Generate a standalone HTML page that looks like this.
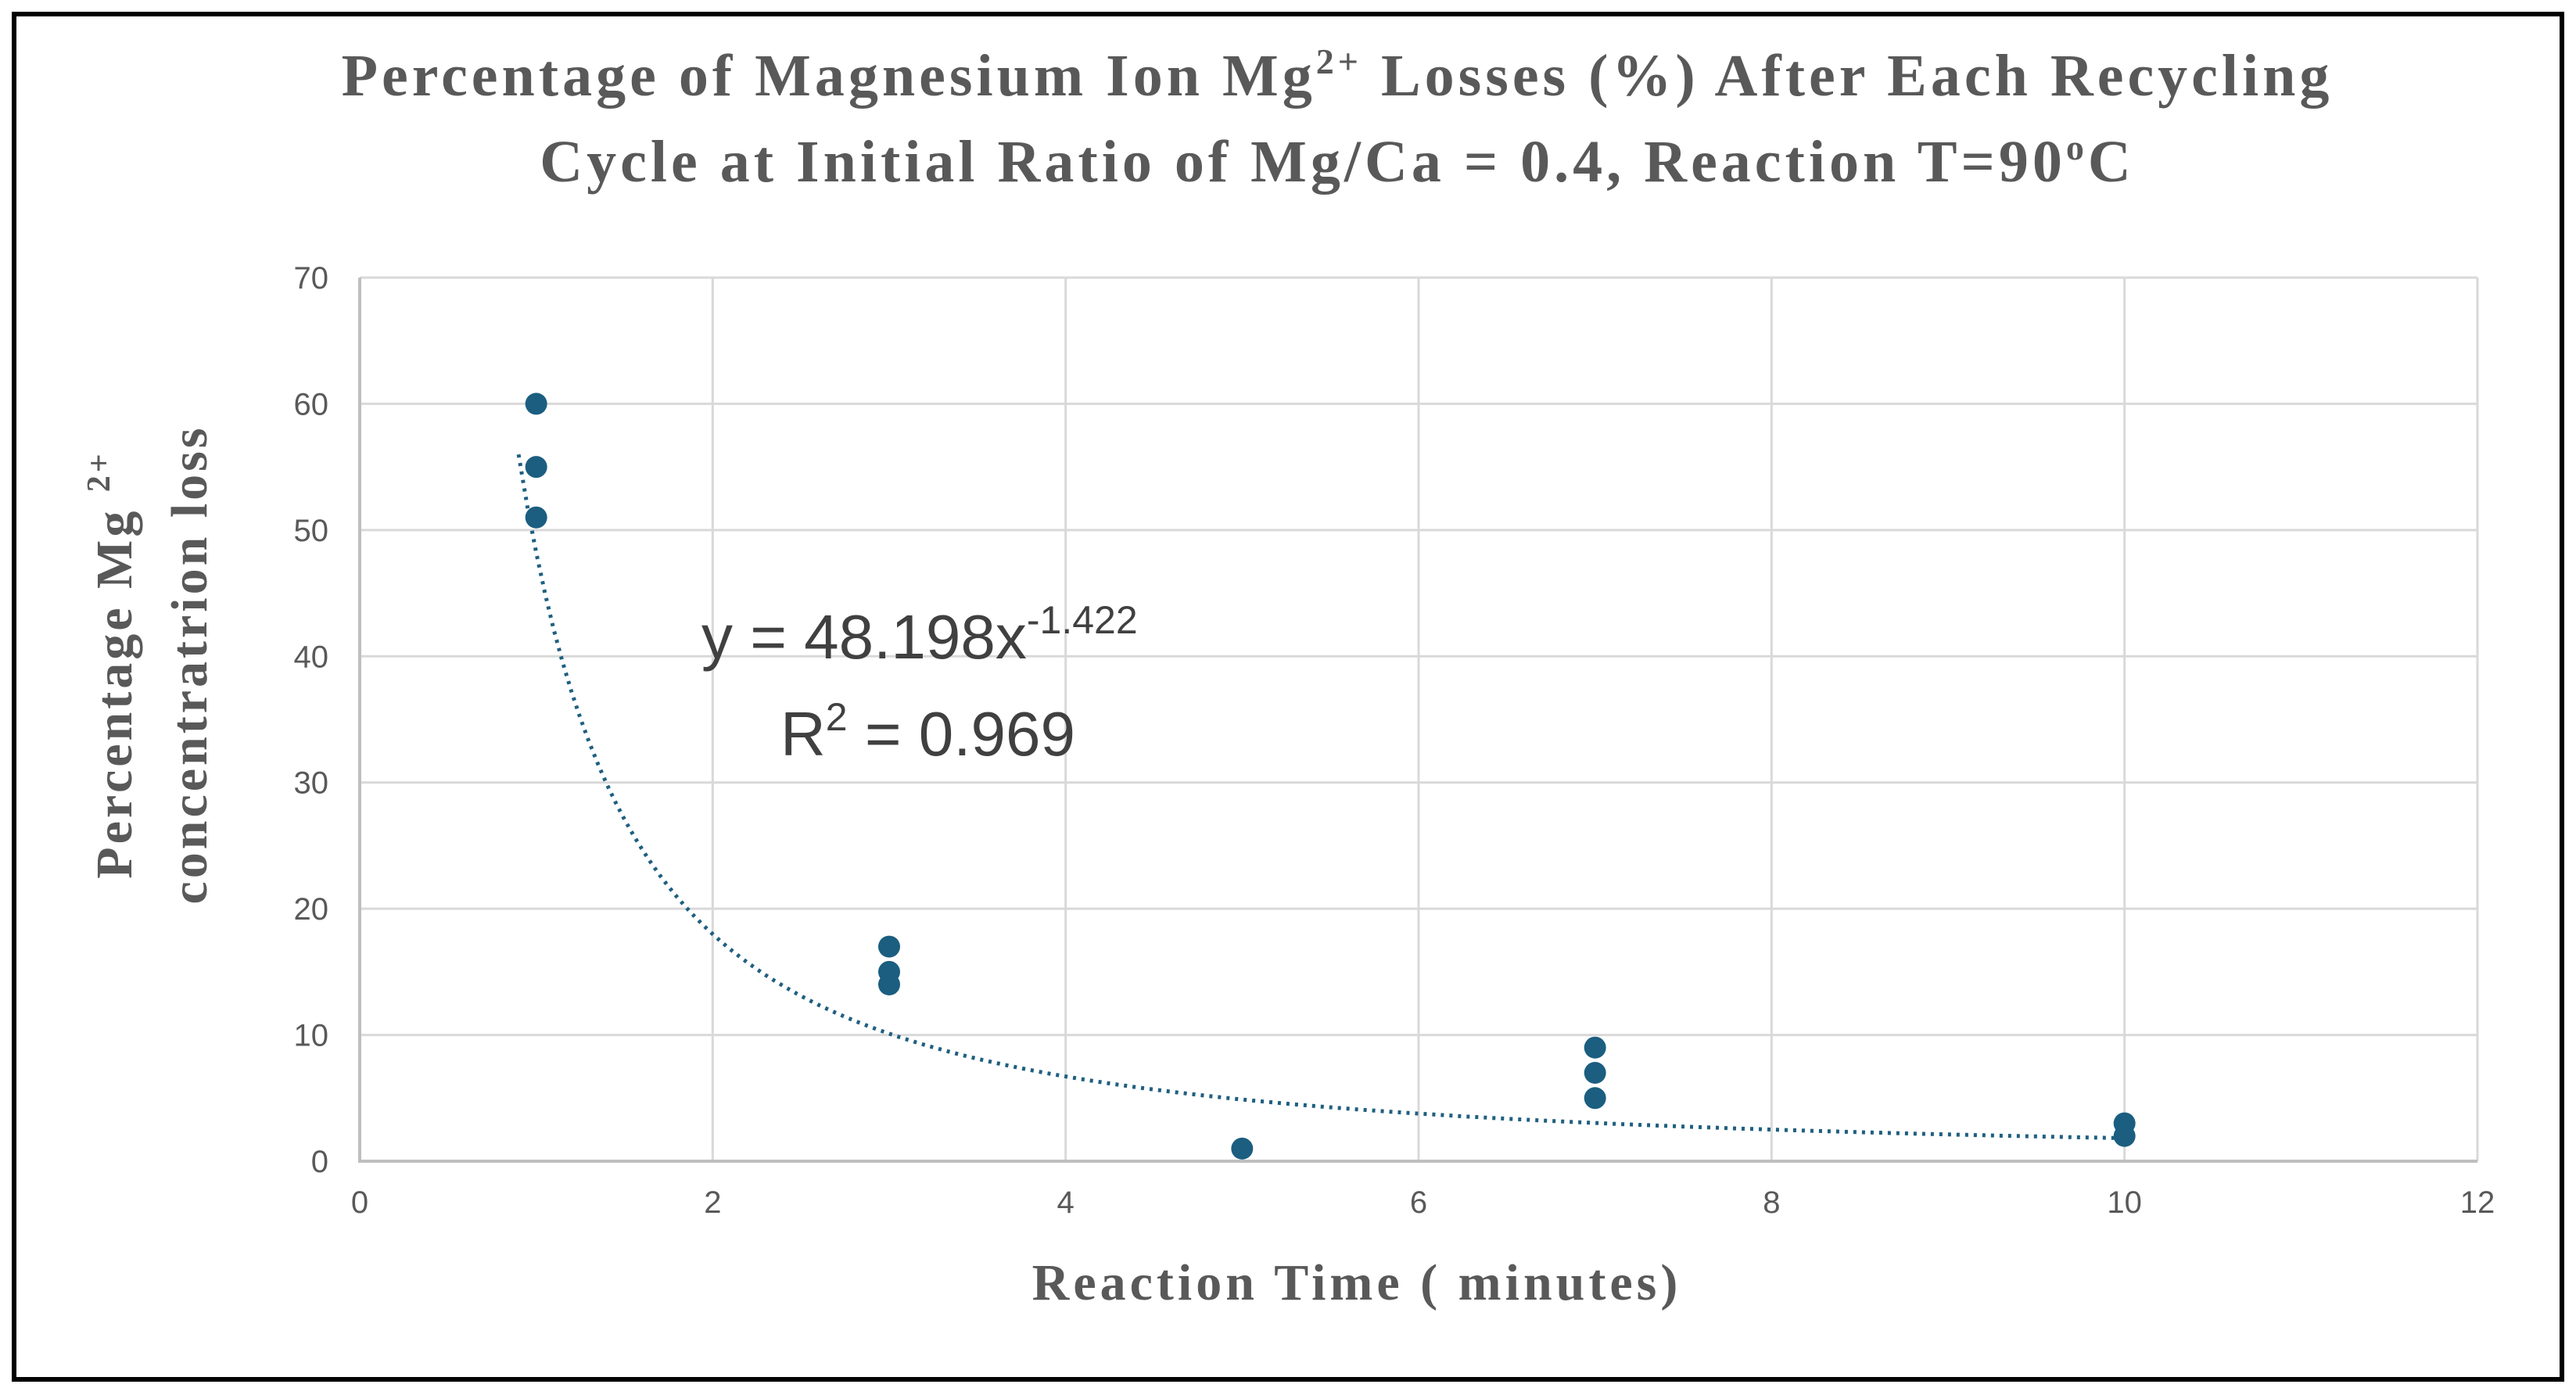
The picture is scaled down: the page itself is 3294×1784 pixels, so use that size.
<!DOCTYPE html>
<html><head><meta charset="utf-8"><style>
body{margin:0;background:#fff;}
svg{display:block;}
</style></head><body>
<svg id="chart" width="3294" height="1784" xmlns="http://www.w3.org/2000/svg">
<rect x="18" y="18" width="3258" height="1746" fill="#fff" stroke="#000" stroke-width="6"/>
<g font-family="Liberation Serif, serif" font-weight="bold" fill="#595959" font-size="76" letter-spacing="5" text-anchor="middle">
<text x="1710" y="122">Percentage of Magnesium Ion Mg<tspan font-size="46" dy="-28">2+</tspan><tspan dy="28"> Losses (%) After Each Recycling</tspan></text>
<text x="1710" y="232">Cycle at Initial Ratio of Mg/Ca = 0.4, Reaction T=90<tspan font-size="46" dy="-28">o</tspan><tspan dy="28">C</tspan></text>
</g>
<g id="grid"></g>
<g id="ticks" font-family="Liberation Sans, sans-serif" font-size="40" fill="#595959"></g>
<path id="trend" fill="none" stroke="#1f5f80" stroke-width="5" stroke-dasharray="4,7"/>
<g id="points"></g>
<g font-family="Liberation Sans, sans-serif" fill="#404040" font-size="80">
<text x="897" y="842">y = 48.198x<tspan font-size="50" dy="-32">-1.422</tspan></text>
<text x="998" y="966">R<tspan font-size="50" dy="-32">2</tspan><tspan dy="32"> = 0.969</tspan></text>
</g>
<text x="1735" y="1662" text-anchor="middle" font-family="Liberation Serif, serif" font-weight="bold" font-size="66" letter-spacing="5" fill="#595959">Reaction Time ( minutes)</text>
<g transform="translate(0,850) rotate(-90)" font-family="Liberation Serif, serif" font-weight="bold" font-size="66" letter-spacing="4" fill="#595959" text-anchor="middle">
<text x="0" y="168">Percentage Mg <tspan font-size="42" dy="-28">2+</tspan></text>
<text x="0" y="264">concentratrion  loss</text>
</g>
</svg>
<script>
const xTicks=[0,2,4,6,8,10,12];
const yTicks=[0,10,20,30,40,50,60,70];
const times=[1,1,1,3,3,3,5,7,7,7,10,10];
const losses=[60,55,51,17,15,14,1,9,7,5,3,2];
const fitA=48.198, fitB=-1.422;
const L=460,R=3168,T=355,B=1485;
const sx=v=>L+(v-0)/(12-0)*(R-L);
const sy=v=>B-(v-0)/(70-0)*(B-T);
const NS="http://www.w3.org/2000/svg";
const grid=document.getElementById('grid'),ticks=document.getElementById('ticks'),pts=document.getElementById('points');
function mk(tag,a){const e=document.createElementNS(NS,tag);for(const k in a)e.setAttribute(k,a[k]);return e;}
yTicks.forEach(v=>{
 const l=mk('line',{x1:L,x2:R,y1:sy(v),y2:sy(v),stroke:'#d9d9d9','stroke-width':3});
 
 
 grid.appendChild(l);
 const t=mk('text',{x:L-40,y:sy(v)+14,'text-anchor':'end'});t.textContent=v;
 
 
 ticks.appendChild(t);
});
xTicks.forEach(v=>{
 const l=mk('line',{x1:sx(v),x2:sx(v),y1:T,y2:B,stroke:'#d9d9d9','stroke-width':3});
 
 
 grid.appendChild(l);
 const t=mk('text',{x:sx(v),y:B+66,'text-anchor':'middle'});t.textContent=v;
 
 
 ticks.appendChild(t);
});
const ax=mk('path',{d:`M${L},${T}V${B}H${R}`,stroke:'#bfbfbf','stroke-width':4,fill:'none'});


grid.appendChild(ax);
let d='';
for(let x=0.9;x<=10.001;x+=0.05){const y=fitA*Math.pow(x,fitB);d+=(d?'L':'M')+sx(x).toFixed(1)+','+sy(y).toFixed(1);}
document.getElementById('trend').setAttribute('d',d);
times.forEach((t,i)=>{
 const c=mk('circle',{cx:sx(t),cy:sy(losses[i]),r:14,fill:'#1b5e80'});
 
 
 pts.appendChild(c);
});
</script>
</body></html>
